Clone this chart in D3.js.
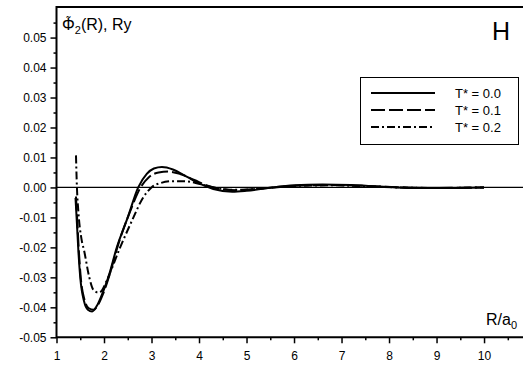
<!DOCTYPE html>
<html>
<head>
<meta charset="utf-8">
<script src="https://cdn.jsdelivr.net/npm/d3@7"></script>
<style>
  body { margin: 0; background: #fff; }
  svg { font-family: "Liberation Sans", Arial, sans-serif; }
</style>
</head>
<body>
<div id="chart"></div>
<script>
// Series: R/a0 and Phi2 (Ry)
const rT0   = [1.40, 1.43, 1.46, 1.50, 1.58, 1.66, 1.75, 1.85, 1.95, 2.09, 2.27, 2.50, 2.72, 2.90, 3.05, 3.22, 3.45, 3.75, 4.05, 4.30, 4.70, 5.00, 5.50, 6.00, 6.60, 7.20, 7.80, 8.50, 9.20, 10.0];
const phiT0 = [-0.0035, -0.012, -0.021, -0.030, -0.038, -0.0408, -0.0414, -0.0395, -0.036, -0.030, -0.020, -0.010, 0.0, 0.0045, 0.0063, 0.0068, 0.0060, 0.0035, 0.0010, -0.0005, -0.0014, -0.0011, -0.0001, 0.0007, 0.0010, 0.0008, 0.0003, -0.0002, -0.0002, 0.0];

const rT1   = [1.41, 1.44, 1.47, 1.51, 1.59, 1.68, 1.78, 1.88, 1.98, 2.12, 2.30, 2.55, 2.77, 2.95, 3.15, 3.35, 3.60, 3.90, 4.20, 4.50, 4.80, 5.20, 5.70, 6.30, 6.90, 7.50, 8.20, 9.00, 9.50, 10.0];
const phiT1 = [-0.003, -0.012, -0.021, -0.030, -0.0375, -0.0403, -0.0408, -0.039, -0.0355, -0.029, -0.019, -0.008, 0.0, 0.0035, 0.0050, 0.0053, 0.0045, 0.0025, 0.0005, -0.0006, -0.0009, -0.0005, 0.0002, 0.0007, 0.0008, 0.0005, 0.0001, -0.0002, -0.0001, 0.0];

const rT2   = [1.41, 1.43, 1.46, 1.53, 1.58, 1.69, 1.77, 1.88, 1.95, 2.06, 2.34, 2.62, 2.80, 3.00, 3.20, 3.45, 3.75, 4.00, 4.30, 4.70, 5.10, 5.60, 6.20, 6.80, 7.50, 8.20, 9.00, 10.0];
const phiT2 = [0.0107, 0.0, -0.008, -0.0176, -0.021, -0.030, -0.034, -0.0351, -0.0345, -0.031, -0.020, -0.010, -0.004, 0.0, 0.0015, 0.0021, 0.0020, 0.0012, 0.0, -0.0008, -0.0006, 0.0, 0.0006, 0.0007, 0.0004, 0.0, -0.0002, 0.0];

const legendLabels = ["T* = 0.0", "T* = 0.1", "T* = 0.2"];
const xTicks = [1, 2, 3, 4, 5, 6, 7, 8, 9, 10];
const xMinorTicks = [1.5, 2.5, 3.5, 4.5, 5.5, 6.5, 7.5, 8.5, 9.5, 10.5];
const yTicks = [-0.05, -0.04, -0.03, -0.02, -0.01, 0.00, 0.01, 0.02, 0.03, 0.04, 0.05];
const yMinorTicks = [-0.045, -0.035, -0.025, -0.015, -0.005, 0.005, 0.015, 0.025, 0.035, 0.045, 0.055];

const W = 523, H = 367;
const plotLeft = 56.5, plotRight = 523, plotTop = 7, plotBottom = 337.3;

const svg = d3.select('#chart').append('svg')
  .attr('width', W)
  .attr('height', H);

const x = d3.scaleLinear().domain([1, 10.82]).range([plotLeft, plotRight]);
const y = d3.scaleLinear().domain([-0.05, 0.0602]).range([plotBottom, plotTop]);

// zero line
svg.append('line')
  .attr('x1', plotLeft).attr('x2', plotRight)
  .attr('y1', y(0)).attr('y2', y(0))
  .attr('stroke', '#000').attr('stroke-width', 1.2);

// curves
const line = d3.line()
  .x(d => x(d[0]))
  .y(d => y(d[1]))
  .curve(d3.curveMonotoneX);

const series = [
  { r: rT0, phi: phiT0, dash: null },
  { r: rT1, phi: phiT1, dash: '14,4' },
  { r: rT2, phi: phiT2, dash: '8,3,2,3' }
];

series.forEach(s => {
  svg.append('path')
    .datum(s.r.map((r, i) => [r, s.phi[i]]))
    .attr('d', line)
    .attr('fill', 'none')
    .attr('stroke', '#000')
    .attr('stroke-width', 2)
    .attr('stroke-dasharray', s.dash);
});

// axes
const xAxis = svg.append('g')
  .attr('transform', `translate(0, ${plotBottom})`)
  .call(d3.axisBottom(x).tickValues(xTicks).tickSize(6).tickSizeOuter(0).tickPadding(8).tickFormat(d => d));
const xMinor = svg.append('g')
  .attr('transform', `translate(0, ${plotBottom})`)
  .call(d3.axisBottom(x).tickValues(xMinorTicks).tickSize(3).tickSizeOuter(0).tickFormat(''));

const yAxis = svg.append('g')
  .attr('transform', `translate(${plotLeft}, 0)`)
  .call(d3.axisLeft(y).tickValues(yTicks).tickSize(6).tickSizeOuter(0).tickPadding(4).tickFormat(d => d.toFixed(2)));
const yMinor = svg.append('g')
  .attr('transform', `translate(${plotLeft}, 0)`)
  .call(d3.axisLeft(y).tickValues(yMinorTicks).tickSize(3).tickSizeOuter(0).tickFormat(''));

[xAxis, xMinor, yAxis, yMinor].forEach(g => {
  g.select('.domain').remove();
  g.selectAll('line').attr('stroke', '#000').attr('stroke-width', 1.5);
  g.selectAll('text').attr('fill', '#000').style('font-size', '12px')
    .style('font-family', '"Liberation Sans", Arial, sans-serif');
});

// frame: left, bottom, top
svg.append('path')
  .attr('d', `M${plotRight},${plotTop}H${plotLeft}V${plotBottom}H${plotRight}`)
  .attr('fill', 'none')
  .attr('stroke', '#000')
  .attr('stroke-width', 2);

// y label: Phi with a tilde on top, subscript 2 (one text element)
const yl = svg.append('text')
  .attr('x', 62)
  .attr('y', 30)
  .style('font-size', '16px');
const phi = yl.append('tspan').text('\u03A6');
const phiW = phi.node().getComputedTextLength();
const tilde = yl.append('tspan')
  .style('font-size', '12px')
  .attr('dy', -4)
  .text('\u02DC');
const tildeW = tilde.node().getComputedTextLength();
tilde.attr('dx', -(phiW + tildeW) / 2);
yl.append('tspan')
  .attr('dx', (phiW - tildeW) / 2)
  .attr('dy', 8)
  .style('font-size', '11px')
  .text('2');
yl.append('tspan').attr('dy', -4).text('(R), Ry');

// x label
const xl = svg.append('text')
  .attr('x', 486)
  .attr('y', 325)
  .style('font-size', '16px');
xl.append('tspan').text('R/a');
xl.append('tspan').attr('dy', 4).style('font-size', '11px').text('0');

// H label
svg.append('text')
  .attr('x', 510)
  .attr('y', 40)
  .attr('text-anchor', 'end')
  .style('font-size', '25px')
  .text('H');

// legend
svg.append('rect')
  .attr('x', 360.5).attr('y', 77.5)
  .attr('width', 158).attr('height', 67)
  .attr('fill', '#fff')
  .attr('stroke', '#000')
  .attr('stroke-width', 1);

series.forEach((s, i) => {
  const ly = 93 + i * 17;
  svg.append('line')
    .attr('x1', 371).attr('x2', 435)
    .attr('y1', ly).attr('y2', ly)
    .attr('stroke', '#000')
    .attr('stroke-width', 2)
    .attr('stroke-dasharray', s.dash);
  svg.append('text')
    .attr('x', 455)
    .attr('y', ly + 5)
    .style('font-size', '13px')
    .text(legendLabels[i]);
});
</script>
</body>
</html>
